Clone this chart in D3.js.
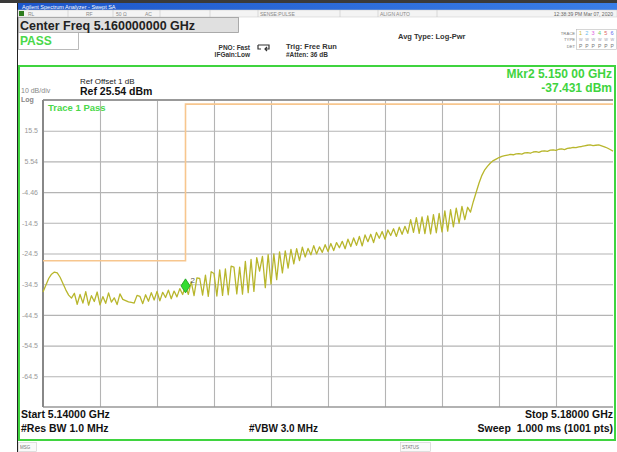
<!DOCTYPE html>
<html>
<head>
<meta charset="utf-8">
<script src="https://cdn.jsdelivr.net/npm/d3@7"></script>
<style>
  body { margin: 0; background: #fff; }
  svg { font-family: "Liberation Sans", Arial, sans-serif; display: block; }
</style>
</head>
<body>
<div id="chart"></div>
<script>
// Sweep settings
let startGHz = 5.14,
    stopGHz = 5.18,
    refLevel = 25.54,
    dbPerDiv = 10;

// Y tick labels as shown on the screen
let yLabels = ['15.5', '5.54', '-4.46', '-14.5', '-24.5', '-34.5', '-44.5', '-54.5', '-64.5'];

// Trace 1 (dBm), 201 samples, evenly spread start..stop
let trace = [
    -37.0, -34.8, -32.6, -31.2, -30.5, -30.8, -32.2, -34.2, -36.3, -38.0, -39.0,
    -37.4, -41.0, -37.8, -40.6, -36.9, -41.3, -38.2, -40.1, -37.0, -41.2,
    -38.5, -40.7, -37.3, -40.3, -38.9, -41.1, -37.6, -39.4, -39.8, -40.2,
    -40.4, -40.6, -38.1, -38.4, -40.8, -37.9, -40.0, -37.2, -39.6, -36.8,
    -39.9, -37.1, -38.8, -36.4, -39.2, -36.7, -38.6, -35.9, -37.8, -35.0,
    -37.8, -33.6, -38.2, -32.4, -32.6, -38.0, -31.5, -38.4, -30.4, -31.0,
    -38.3, -29.8, -38.1, -29.5, -37.9, -28.6, -28.9, -37.6, -28.9, -37.7,
    -27.0, -37.2, -26.4, -36.8, -25.8, -30.2, -25.4, -35.6, -24.8, -34.4,
    -24.6, -33.0, -23.9, -30.8, -23.6, -29.2, -23.1, -27.8, -22.9, -26.8,
    -22.4, -25.6, -22.8, -24.9, -21.9, -24.6, -22.3, -24.1, -21.6, -23.8,
    -21.2, -23.5, -20.9, -22.6, -20.5, -22.9, -19.8, -22.2, -19.4, -21.8,
    -18.9, -22.0, -18.4, -20.6, -18.2, -20.9, -17.6, -19.5, -17.3, -19.8,
    -16.8, -18.6, -16.4, -18.9, -15.9, -18.2, -15.6, -17.9, -13.4, -17.6,
    -12.8, -17.9, -12.5, -18.0, -12.2, -18.1, -11.8, -17.7, -11.4, -17.4,
    -10.6, -17.2, -10.2, -15.8, -9.7, -14.6, -9.1, -13.4, -9.4, -11.0,
    -7.5, -4.5, -1.5, 1.0, 2.8, 4.0, 5.0, 5.8, 6.3, 6.8, 7.2, 7.4,
    7.6, 7.8, 7.7, 8.0, 8.1, 7.9, 8.3, 8.4, 8.2, 8.6, 8.7, 8.5, 8.9, 9.0,
    8.8, 9.2, 9.3, 9.1, 9.5, 9.6, 9.4, 9.8, 9.9, 10.1, 10.0, 10.3, 10.4, 10.6,
    10.8, 10.9, 10.7, 10.8, 10.9, 10.6, 10.3, 9.9, 9.4, 8.9
];

// Limit line (GHz, dBm)
let limitFreq = [5.14, 5.15, 5.15, 5.18];
let limitDb = [-26.8, -26.8, 24.2, 24.2];

// Marker 2
let markerFreq = 5.150;
let markerDb = -35.0;

let width = 617, height = 452;
let plot = { left: 43, right: 613, top: 100, bottom: 407 };

let svg = d3.select('#chart')
    .append('svg')
    .attr('width', width)
    .attr('height', height);

let x = d3.scaleLinear().domain([startGHz, stopGHz]).range([plot.left, plot.right]);
let y = d3.scaleLinear().domain([refLevel - 10 * dbPerDiv, refLevel]).range([plot.bottom, plot.top]);

let step = (stopGHz - startGHz) / (trace.length - 1);

// ---- window chrome ----
svg.append('rect').attr('x', 0).attr('y', 0).attr('width', width).attr('height', 3).attr('fill', '#3a3a3a');
let grad = svg.append('defs').append('linearGradient').attr('id', 'tb').attr('x1', 0).attr('x2', 1);
grad.append('stop').attr('offset', 0).attr('stop-color', '#1d56c9');
grad.append('stop').attr('offset', 1).attr('stop-color', '#3a7ee8');
svg.append('rect').attr('x', 18).attr('y', 3).attr('width', width - 18).attr('height', 7).attr('fill', 'url(#tb)');
svg.append('text').attr('x', 22).attr('y', 8.5).attr('font-size', 5.5).attr('fill', '#fff')
    .text('Agilent Spectrum Analyzer - Swept SA');
svg.append('line').attr('x1', 17.5).attr('x2', 17.5).attr('y1', 3).attr('y2', height).attr('stroke', '#222');

// status row
svg.append('rect').attr('x', 18).attr('y', 10).attr('width', width - 18).attr('height', 7)
    .attr('fill', '#f4f4f4').attr('stroke', '#c8c8c8').attr('stroke-width', 0.5);
svg.append('rect').attr('x', 19).attr('y', 11).attr('width', 5).attr('height', 5).attr('fill', '#2e7d1e');
[68, 113, 160, 210, 258, 340, 378, 437].forEach(function (d) {
    svg.append('line').attr('x1', d).attr('x2', d).attr('y1', 10).attr('y2', 17)
        .attr('stroke', '#c8c8c8').attr('stroke-width', 0.6);
});
let statusText = [['RL', 28], ['RF', 86], ['50 Ω', 116], ['AC', 145], ['SENSE:PULSE', 260], ['ALIGN AUTO', 380]];
statusText.forEach(function (d) {
    svg.append('text').attr('x', d[1]).attr('y', 15.8).attr('font-size', 5).attr('fill', '#888').text(d[0]);
});
svg.append('text').attr('x', 613).attr('y', 15.8).attr('font-size', 5).attr('fill', '#666')
    .attr('text-anchor', 'end').text('12:38:39 PM Mar 07, 2020');

// center freq / pass
svg.append('rect').attr('x', 18.5).attr('y', 17.5).attr('width', 220).attr('height', 15)
    .attr('fill', '#e0e0e0').attr('stroke', '#999').attr('stroke-width', 0.8);
svg.append('text').attr('x', 20).attr('y', 29.5).attr('font-size', 12.5).attr('font-weight', 'bold')
    .attr('fill', '#222').text('Center Freq 5.160000000 GHz');
svg.append('rect').attr('x', 18.5).attr('y', 32.5).attr('width', 60).attr('height', 17)
    .attr('fill', '#fff').attr('stroke', '#aaa').attr('stroke-width', 0.8);
svg.append('text').attr('x', 20).attr('y', 45).attr('font-size', 12).attr('font-weight', 'bold')
    .attr('fill', '#4ad84a').text('PASS');

svg.append('text').attr('x', 250).attr('y', 50).attr('font-size', 6.5).attr('font-weight', 'bold')
    .attr('text-anchor', 'end').attr('fill', '#333').text('PNO: Fast');
svg.append('text').attr('x', 250).attr('y', 57).attr('font-size', 6.5).attr('font-weight', 'bold')
    .attr('text-anchor', 'end').attr('fill', '#333').text('IFGain:Low');
svg.append('path').attr('d', 'M258,45 h11 v4 h-4 M267,47 l-2,2 l2,2 M258,45 v4 h3')
    .attr('fill', 'none').attr('stroke', '#333').attr('stroke-width', 1.2);
svg.append('text').attr('x', 286).attr('y', 49).attr('font-size', 7.5).attr('font-weight', 'bold')
    .attr('fill', '#333').text('Trig: Free Run');
svg.append('text').attr('x', 286).attr('y', 57).attr('font-size', 6.5).attr('font-weight', 'bold')
    .attr('fill', '#333').text('#Atten: 36 dB');
svg.append('text').attr('x', 398).attr('y', 39).attr('font-size', 7.5).attr('font-weight', 'bold')
    .attr('fill', '#333').text('Avg Type: Log-Pwr');

// trace info box
svg.append('rect').attr('x', 576.5).attr('y', 29.5).attr('width', 40).attr('height', 20)
    .attr('fill', '#fff').attr('stroke', '#bbb').attr('stroke-width', 0.6);
[['TRACE', 34.5], ['TYPE', 41], ['DET', 47.5]].forEach(function (d) {
    svg.append('text').attr('x', 575).attr('y', d[1]).attr('font-size', 4.2).attr('fill', '#777')
        .attr('text-anchor', 'end').text(d[0]);
});
let traceColors = ['#c8b830', '#66bbee', '#e060e0', '#66cc66', '#e06666', '#6666ee'];
traceColors.forEach(function (c, i) {
    svg.append('text').attr('x', 579 + i * 6.3).attr('y', 35).attr('font-size', 5.5).attr('fill', c).text(i + 1);
    svg.append('text').attr('x', 579 + i * 6.3).attr('y', 41).attr('font-size', 3.8).attr('fill', '#99a').text('W');
    svg.append('text').attr('x', 579 + i * 6.3).attr('y', 48).attr('font-size', 5).attr('fill', '#777').text('P');
});

// green frame
svg.append('rect').attr('x', 19).attr('y', 66).attr('width', 596).attr('height', 374)
    .attr('fill', 'none').attr('stroke', '#3fd43f').attr('stroke-width', 2);

// ---- labels in frame ----
svg.append('text').attr('x', 80).attr('y', 84).attr('font-size', 8).attr('fill', '#222').text('Ref Offset 1 dB');
svg.append('text').attr('x', 80).attr('y', 95).attr('font-size', 10.5).attr('font-weight', 'bold')
    .attr('fill', '#111').text('Ref 25.54 dBm');
svg.append('text').attr('x', 21).attr('y', 93).attr('font-size', 7).attr('fill', '#888').text('10 dB/div');
svg.append('text').attr('x', 21).attr('y', 101.5).attr('font-size', 7).attr('font-weight', 'bold')
    .attr('fill', '#888').text('Log');
svg.append('text').attr('x', 612).attr('y', 78).attr('font-size', 12).attr('font-weight', 'bold')
    .attr('text-anchor', 'end').attr('fill', '#3fd43f').text('Mkr2 5.150 00 GHz');
svg.append('text').attr('x', 612).attr('y', 92).attr('font-size', 12).attr('font-weight', 'bold')
    .attr('text-anchor', 'end').attr('fill', '#3fd43f').text('-37.431 dBm');

// ---- grid ----
let g = svg.append('g');
g.append('rect').attr('x', plot.left).attr('y', plot.top)
    .attr('width', plot.right - plot.left).attr('height', plot.bottom - plot.top).attr('fill', '#fff');

let yTicks = yLabels.map(function (d, i) { return refLevel - (i + 1) * dbPerDiv; });
let xTicks = d3.range(1, 10).map(function (i) { return startGHz + i * (stopGHz - startGHz) / 10; });

g.append('g')
    .attr('transform', 'translate(0,' + plot.bottom + ')')
    .call(d3.axisBottom(x).tickValues(xTicks).tickSize(-(plot.bottom - plot.top)).tickFormat(''))
    .call(function (a) { a.select('.domain').remove(); })
    .selectAll('line').attr('stroke', '#b4b4b4').attr('stroke-width', 1.1);

g.append('g')
    .attr('transform', 'translate(' + plot.left + ',0)')
    .call(d3.axisLeft(y).tickValues(yTicks).tickSize(-(plot.right - plot.left)).tickPadding(5)
        .tickFormat(function (d, i) { return yLabels[i]; }))
    .call(function (a) { a.select('.domain').remove(); })
    .call(function (a) {
        a.selectAll('line').attr('stroke', '#b4b4b4').attr('stroke-width', 1.1);
        a.selectAll('text').attr('fill', '#999').attr('font-size', 7)
            .attr('font-family', '"Liberation Sans", Arial, sans-serif');
    });

// plot border
g.append('line').attr('x1', plot.left).attr('x2', plot.right).attr('y1', plot.top).attr('y2', plot.top)
    .attr('stroke', '#999').attr('stroke-width', 2);
g.append('line').attr('x1', plot.left).attr('x2', plot.right).attr('y1', plot.bottom).attr('y2', plot.bottom)
    .attr('stroke', '#999').attr('stroke-width', 1.5);
g.append('line').attr('x1', plot.left).attr('x2', plot.left).attr('y1', plot.top).attr('y2', plot.bottom)
    .attr('stroke', '#888').attr('stroke-width', 2);

svg.append('text').attr('x', 48).attr('y', 111).attr('font-size', 9.5).attr('font-weight', 'bold')
    .attr('fill', '#4ad84a').text('Trace 1 Pass');

// ---- limit line ----
let limitLine = d3.line()
    .x(function (d, i) { return x(limitFreq[i]); })
    .y(function (d) { return y(d); });
svg.append('path')
    .datum(limitDb)
    .attr('d', limitLine)
    .attr('fill', 'none')
    .attr('stroke', '#f7c68e')
    .attr('stroke-width', 1.6);

// ---- trace ----
let tracePath = d3.line()
    .x(function (d, i) { return x(startGHz + i * step); })
    .y(function (d) { return y(d); });
svg.append('path')
    .datum(trace)
    .attr('d', tracePath)
    .attr('fill', 'none')
    .attr('stroke', '#b8b62c')
    .attr('stroke-width', 1.3)
    .attr('stroke-linejoin', 'round');

// ---- marker ----
let mx = x(markerFreq), my = y(markerDb);
svg.append('path')
    .attr('d', 'M' + mx + ',' + (my - 7) + 'L' + (mx + 4.5) + ',' + my + 'L' + mx + ',' + (my + 7) + 'L' + (mx - 4.5) + ',' + my + 'Z')
    .attr('fill', '#33dd33')
    .attr('stroke', '#1a9a1a')
    .attr('stroke-width', 0.8);
svg.append('text').attr('x', mx + 5).attr('y', my - 3).attr('font-size', 8).attr('fill', '#555').text('2');

// ---- footer ----
svg.append('text').attr('x', 21).attr('y', 418).attr('font-size', 10.5).attr('font-weight', 'bold')
    .attr('fill', '#111').text('Start 5.14000 GHz');
svg.append('text').attr('x', 21).attr('y', 432).attr('font-size', 10.5).attr('font-weight', 'bold')
    .attr('fill', '#111').text('#Res BW 1.0 MHz');
svg.append('text').attr('x', 249).attr('y', 432).attr('font-size', 10).attr('font-weight', 'bold')
    .attr('fill', '#111').text('#VBW 3.0 MHz');
svg.append('text').attr('x', 613).attr('y', 418).attr('font-size', 10.5).attr('font-weight', 'bold')
    .attr('text-anchor', 'end').attr('fill', '#111').text('Stop 5.18000 GHz');
svg.append('text').attr('x', 613).attr('y', 432).attr('font-size', 10.5).attr('font-weight', 'bold')
    .attr('text-anchor', 'end').attr('fill', '#111').attr('xml:space', 'preserve').text('Sweep  1.000 ms (1001 pts)');

// bottom status bar
svg.append('rect').attr('x', 18.5).attr('y', 442.5).attr('width', 18).attr('height', 9)
    .attr('fill', '#fafafa').attr('stroke', '#ccc').attr('stroke-width', 0.6);
svg.append('text').attr('x', 20).attr('y', 449).attr('font-size', 4.5).attr('fill', '#777').text('MSG');
svg.append('rect').attr('x', 400.5).attr('y', 442.5).attr('width', 30).attr('height', 9)
    .attr('fill', '#fafafa').attr('stroke', '#ccc').attr('stroke-width', 0.6);
svg.append('text').attr('x', 402).attr('y', 449).attr('font-size', 4.5).attr('fill', '#777').text('STATUS');
</script>
</body>
</html>
